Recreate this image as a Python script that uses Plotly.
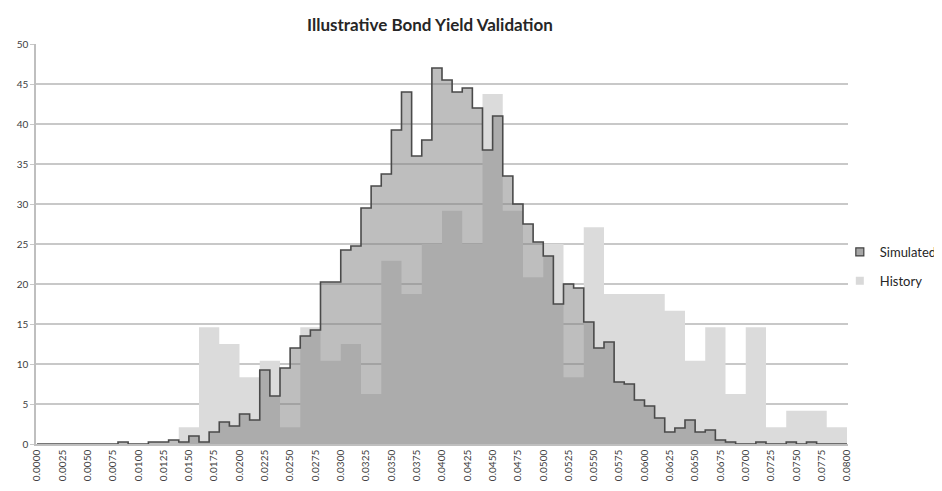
import plotly.graph_objects as go

# simulated histogram: 0.001-wide yield bins starting at 0.000
sim_bin_width = 0.001
sim_values = [
    0, 0, 0, 0, 0, 0, 0, 0, 0.25, 0,
    0, 0.25, 0.25, 0.5, 0.25, 1.0, 0.25, 1.5, 2.75, 2.25,
    3.75, 3.0, 9.25, 6.0, 9.5, 12.0, 13.5, 14.25, 20.25, 20.25,
    24.25, 24.75, 29.5, 32.25, 33.75, 39.25, 44.0, 36.0, 38.0, 47.0,
    45.5, 44.0, 44.5, 42.0, 36.75, 41.0, 33.5, 30.0, 27.5, 25.25,
    23.5, 17.5, 20.0, 19.5, 15.25, 12.0, 12.75, 7.75, 7.5, 5.5,
    4.75, 3.25, 1.5, 2.0, 3.0, 1.5, 1.75, 0.5, 0.25, 0,
    0, 0.25, 0, 0, 0.25, 0, 0.25, 0, 0, 0,
]

# history histogram: 0.002-wide yield bins starting at 0.000
hist_bin_width = 0.002
hist_values = [
    0, 0, 0, 0, 0, 0, 0, 2.08, 14.58, 12.5,
    8.33, 10.42, 2.08, 14.58, 10.42, 12.5, 6.25, 22.92, 18.75, 25.0,
    29.17, 25.0, 43.75, 29.17, 20.83, 25.0, 8.33, 27.08, 18.75, 18.75,
    18.75, 16.67, 10.42, 14.58, 6.25, 14.58, 2.08, 4.17, 4.17, 2.08,
]

tick_labels = [f"{0.0025 * i:.4f}" for i in range(33)]
tick_vals = [float(t) for t in tick_labels]


def step_xy(values, width):
    # left edges plus the closing right edge for an 'hv' step line
    xs = [round(i * width, 4) for i in range(len(values) + 1)]
    ys = list(values) + [values[-1]]
    return xs, ys


hx, hy = step_xy(hist_values, hist_bin_width)
sx, sy = step_xy(sim_values, sim_bin_width)

fig = go.Figure()
fig.add_trace(go.Scatter(
    x=hx, y=hy, mode='lines', line=dict(shape='hv', width=0, color='rgba(0,0,0,0)'),
    fill='tozeroy', fillcolor='rgb(219,219,219)', showlegend=False, hoverinfo='skip'))
fig.add_trace(go.Scatter(
    x=sx, y=sy, mode='lines', line=dict(shape='hv', width=1.6, color='#4a4a4a'),
    fill='tozeroy', fillcolor='rgba(125,125,125,0.5)', showlegend=False, hoverinfo='skip'))

# legend entries
fig.add_trace(go.Scatter(
    x=[None], y=[None], mode='markers', name='Simulated', legendgroup='a',
    marker=dict(symbol='square', size=8, color='#a6a6a6', line=dict(color='#404040', width=1.2))))
fig.add_trace(go.Scatter(
    x=[None], y=[None], mode='markers', name='History', legendgroup='b',
    marker=dict(symbol='square', size=8, color='#d9d9d9', line=dict(width=0))))

# the page body adds an 8px margin, so the figure is 8px smaller than the window
fig.update_layout(
    width=934, height=483,
    margin=dict(l=28, r=94, t=36, b=47, autoexpand=False),
    paper_bgcolor='white', plot_bgcolor='white',
    font=dict(family='Lato, Open Sans, sans-serif', color='#404040'),
    title=dict(text='<b>Illustrative Bond Yield Validation</b>', x=0.4518, xref='container',
               xanchor='center', y=0.9648, yref='container', yanchor='middle',
               font=dict(size=17, color='#262626')),
    legend=dict(x=0.8906, xref='container', xanchor='left', y=0.4648, yref='container',
                yanchor='middle', font=dict(size=13, color='#262626'),
                tracegroupgap=9, itemwidth=30, bgcolor='rgba(0,0,0,0)'),
    xaxis=dict(range=[-0.0001, 0.0801], tickvals=tick_vals, ticktext=tick_labels,
               tickangle=-90, tickfont=dict(size=10, color='#404040'),
               showgrid=False, zeroline=False, showline=True, linecolor='#bfbfbf',
               linewidth=1.5, layer='above traces', ticks='', fixedrange=True),
    yaxis=dict(range=[0, 50], dtick=5, tickfont=dict(size=10, color='#404040'),
               showgrid=True, gridcolor='#c8c8c8', gridwidth=1.5, zeroline=False,
               showline=True, linecolor='#bfbfbf', linewidth=1.5, ticks='outside',
               ticklen=4, tickcolor='#c8c8c8', layer='above traces'),
)

fig.write_html("out.html")
